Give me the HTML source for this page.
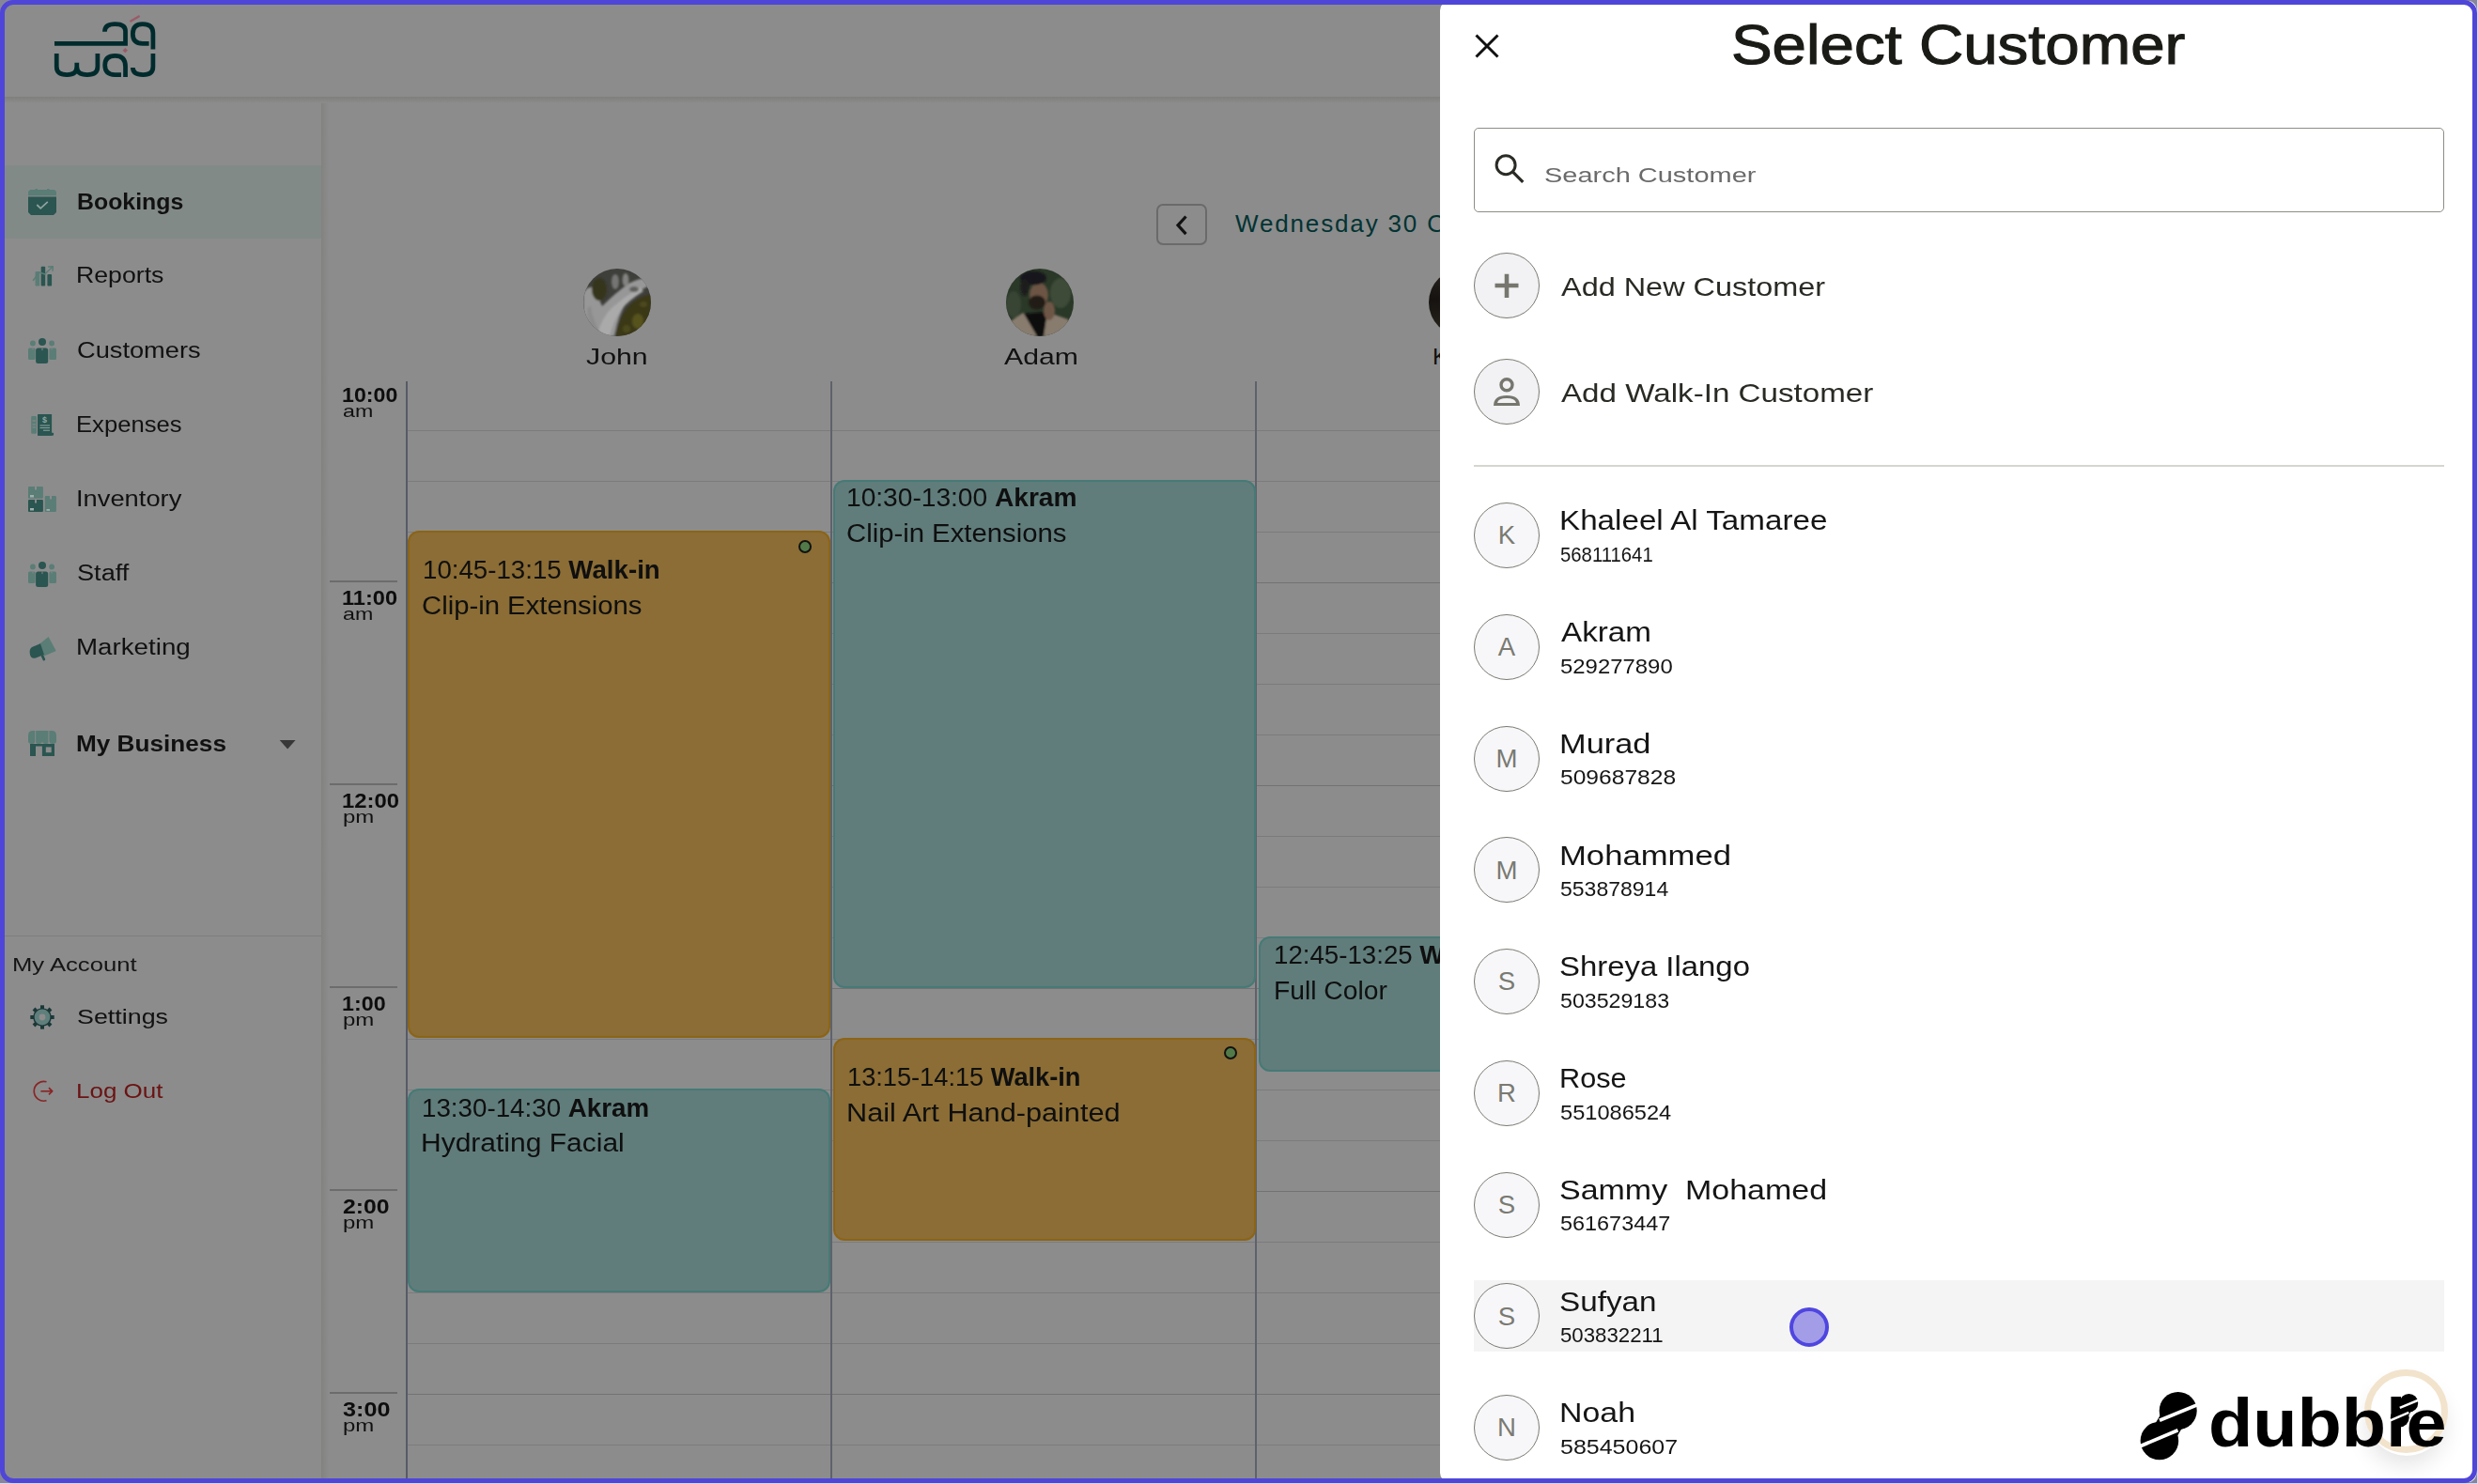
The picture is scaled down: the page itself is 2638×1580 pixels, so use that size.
<!DOCTYPE html>
<html><head><meta charset="utf-8"><title>Select Customer</title><style>
html,body{margin:0;padding:0;width:2638px;height:1580px;overflow:hidden;background:#8c8c8c}
.t{position:absolute;white-space:pre;line-height:1;font-family:"Liberation Sans",sans-serif}
.t b{font-weight:700}
.a{position:absolute;display:block}
</style></head><body>
<div class="a" style="left:5px;top:103px;width:2633px;height:7px;background:linear-gradient(#7f7f7c,#8c8c8c)"></div>
<div class="a" style="left:342px;top:110px;width:8px;height:1470px;background:linear-gradient(to right,#828280,#8c8c8c)"></div>
<div class="a" style="left:5px;top:175.5px;width:337px;height:78.5px;background:#828a88"></div>
<div class="a" style="left:5px;top:996px;width:337px;height:1px;background:#7e7e7e"></div>
<svg class="a" style="left:50px;top:10px" width="130" height="80" viewBox="0 0 2412 1484"><path d="M148,673 H1550 V430 Q1550,290 1345,290 Q1140,290 1140,440" fill="none" stroke="#002b2d" stroke-width="88" stroke-linecap="butt"/><path d="M2095,790 V470 Q2095,290 1890,290 Q1695,290 1695,480 Q1695,673 1890,673 H2015" fill="none" stroke="#002b2d" stroke-width="88" stroke-linecap="butt"/><path d="M190,870 V1130 Q190,1290 395,1290 Q590,1290 590,1130 V1055 M590,1130 Q590,1290 795,1290 Q1000,1290 1000,1130 V870" fill="none" stroke="#002b2d" stroke-width="88" stroke-linecap="butt"/><path d="M1465,1290 H1340 Q1145,1290 1145,1100 Q1145,915 1345,915 Q1550,915 1550,1130 V1335" fill="none" stroke="#002b2d" stroke-width="88" stroke-linecap="butt"/><path d="M2095,870 V1130 Q2095,1290 1900,1290 Q1695,1290 1695,1150" fill="none" stroke="#002b2d" stroke-width="88" stroke-linecap="butt"/><path d="M1640,240 L1830,130" stroke="#9a5a68" stroke-width="40"/><path d="M1545,760 L1595,810 L1545,860 L1495,810 Z" fill="#9a5a68"/></svg>
<svg class="a" style="left:30px;top:201px" width="30" height="28" viewBox="0 0 30 28"><rect x="7.5" y="0" width="2.5" height="3" fill="#5a7d76"/><rect x="20" y="0" width="2.5" height="3" fill="#5a7d76"/><path d="M2,1 H28 L30,3 V7.3 H0 V3 Z" fill="#5a7d76"/><path d="M0,8.6 H30 V25 L27,28 H3 L0,25 Z" fill="#2a5550"/><polyline points="9.3,17 13.2,20.8 20.8,13.8" fill="none" stroke="#8ea39f" stroke-width="1.8"/></svg>
<svg class="a" style="left:34px;top:283px" width="23" height="22" viewBox="0 0 23 22"><rect x="3.5" y="6" width="4.7" height="15.5" rx="1" fill="#5a7d76"/><rect x="9.7" y="0.7" width="4.5" height="20.8" rx="1" fill="#2a5550"/><rect x="16.4" y="9" width="4.7" height="12.5" rx="1" fill="#2a5550"/><path d="M1.1,15.8 L8,7 L13.6,9 L22,1" fill="none" stroke="#5a7d76" stroke-width="1.5"/><path d="M17,1 L22.3,0.7 L22,5.8" fill="none" stroke="#5a7d76" stroke-width="1.5"/></svg>
<svg class="a" style="left:30px;top:360px" width="30" height="27" viewBox="0 0 30 27"><circle cx="4.9" cy="5.5" r="2.9" fill="#5a7d76"/><circle cx="25.1" cy="5.5" r="2.9" fill="#5a7d76"/><rect x="0" y="10.5" width="7.6" height="12.5" rx="1.5" fill="#5a7d76"/><rect x="22.4" y="10.5" width="7.6" height="12.5" rx="1.5" fill="#5a7d76"/><circle cx="15" cy="4" r="4" fill="#2a5550"/><rect x="8.1" y="10.5" width="13.1" height="16.5" rx="2.5" fill="#2a5550"/><path d="M15,10.5 V13.2" stroke="#8c8c8c" stroke-width="0.9"/><path d="M5,10.5 V12.5 M25,10.5 V12.5" stroke="#8c8c8c" stroke-width="0.8"/></svg>
<svg class="a" style="left:30px;top:598px" width="30" height="27" viewBox="0 0 30 27"><circle cx="4.9" cy="5.5" r="2.9" fill="#5a7d76"/><circle cx="25.1" cy="5.5" r="2.9" fill="#5a7d76"/><rect x="0" y="10.5" width="7.6" height="12.5" rx="1.5" fill="#5a7d76"/><rect x="22.4" y="10.5" width="7.6" height="12.5" rx="1.5" fill="#5a7d76"/><circle cx="15" cy="4" r="4" fill="#2a5550"/><rect x="8.1" y="10.5" width="13.1" height="16.5" rx="2.5" fill="#2a5550"/><path d="M15,10.5 V13.2" stroke="#8c8c8c" stroke-width="0.9"/><path d="M5,10.5 V12.5 M25,10.5 V12.5" stroke="#8c8c8c" stroke-width="0.8"/></svg>
<svg class="a" style="left:33px;top:441px" width="25" height="23" viewBox="0 0 25 23"><rect x="0.2" y="2" width="5.7" height="18.7" rx="1" fill="#5a7d76"/><path d="M1.5,7 H5 M1.5,11 H5 M1.5,14 H5" stroke="#8c8c8c" stroke-width="1"/><rect x="7" y="0" width="15.1" height="22.7" rx="0.5" fill="#2a5550"/><rect x="7" y="19.7" width="17.1" height="3" rx="1" fill="#2a5550"/><text x="14.6" y="9" font-size="9" font-family="Liberation Sans" font-weight="700" fill="#8fa7a2" text-anchor="middle">$</text><path d="M9.5,12 H20 M9.5,14.6 H20 M13,17.2 H20" stroke="#8fa7a2" stroke-width="1"/></svg>
<svg class="a" style="left:30px;top:518px" width="30" height="27" viewBox="0 0 30 27"><rect x="0" y="0" width="15.9" height="12.8" rx="1" fill="#5a7d76"/><rect x="0" y="14.1" width="15.9" height="12.9" rx="1" fill="#2a5550"/><rect x="17.8" y="10" width="12.1" height="17" rx="1" fill="#5a7d76"/><rect x="7" y="0" width="2" height="3.5" fill="#8c8c8c"/><rect x="7" y="14.1" width="2" height="3.5" fill="#8c8c8c"/><rect x="23" y="10" width="2" height="3.5" fill="#8c8c8c"/><rect x="2" y="9" width="4" height="2.5" fill="#9fb0ac"/><rect x="2" y="23" width="4" height="2.5" fill="#9fb0ac"/><rect x="19.5" y="24" width="3.5" height="1.8" fill="#9fb0ac"/></svg>
<svg class="a" style="left:31px;top:677px" width="29" height="28" viewBox="0 0 29 28"><path d="M10,9.5 L20.6,1 L28.7,16 L15.9,21.5 Z" fill="#5a7d76"/><path d="M3,12 L12,8.3 L16,20 L7,23.5 Q1.5,25 0.8,19 Q0,14 3,12 Z" fill="#2a5550"/><path d="M14.2,21.5 L15.8,25" stroke="#2a5550" stroke-width="2.8" stroke-linecap="round"/></svg>
<svg class="a" style="left:30px;top:778px" width="30" height="27" viewBox="0 0 30 27"><path d="M0,5 Q0,0 5,0 H25 Q30,0 30,5 V11 Q30,14 26,14 Q22.5,14 22.5,11 Q22.5,14 18.7,14 Q15,14 15,11 Q15,14 11.2,14 Q7.5,14 7.5,11 Q7.5,14 4,14 Q0,14 0,11 Z" fill="#5a7d76"/><path d="M7.7,0 V13 M21.9,0 V13" stroke="#8c8c8c" stroke-width="0.9"/><rect x="2" y="14" width="26" height="13" fill="#2a5550"/><rect x="8" y="16.5" width="6.9" height="10.5" fill="#8c8c8c"/><rect x="18.8" y="17.4" width="5.9" height="5.8" fill="#8c8c8c"/></svg>
<svg class="a" style="left:297px;top:788px" width="18" height="10" viewBox="0 0 18 10"><path d="M0.7,0 H17.6 L9.15,9.6 Z" fill="#383838"/></svg>
<svg class="a" style="left:32px;top:1069.5px" width="26" height="26" viewBox="0 0 26 26"><rect x="11" y="0.3" width="4" height="5" fill="#1b3838" transform="rotate(0 13 13)"/><rect x="11" y="0.3" width="4" height="5" fill="#1b3838" transform="rotate(45 13 13)"/><rect x="11" y="0.3" width="4" height="5" fill="#1b3838" transform="rotate(90 13 13)"/><rect x="11" y="0.3" width="4" height="5" fill="#1b3838" transform="rotate(135 13 13)"/><rect x="11" y="0.3" width="4" height="5" fill="#1b3838" transform="rotate(180 13 13)"/><rect x="11" y="0.3" width="4" height="5" fill="#1b3838" transform="rotate(225 13 13)"/><rect x="11" y="0.3" width="4" height="5" fill="#1b3838" transform="rotate(270 13 13)"/><rect x="11" y="0.3" width="4" height="5" fill="#1b3838" transform="rotate(315 13 13)"/><circle cx="13" cy="13" r="9.8" fill="#1b3838"/><circle cx="13" cy="13" r="8.4" fill="#5f7f7c"/><circle cx="13" cy="13" r="3.4" fill="#8c8c8c"/></svg>
<svg class="a" style="left:33px;top:1149px" width="26" height="26" viewBox="0 0 26 26"><path d="M16.5,2.8 A10.4,10.4 0 1 0 16.5,22.8" fill="none" stroke="#8a2525" stroke-width="1.7"/><path d="M10.4,12.8 H22.6" stroke="#8a2525" stroke-width="1.7"/><path d="M19,9.2 L22.6,12.8 L19,16.4" fill="none" stroke="#8a2525" stroke-width="1.7"/></svg>
<div class="a" style="left:434px;top:458px;width:1200px;height:1px;background:#7b7b7b"></div>
<div class="a" style="left:434px;top:512px;width:1200px;height:1px;background:#7b7b7b"></div>
<div class="a" style="left:434px;top:566px;width:1200px;height:1px;background:#7b7b7b"></div>
<div class="a" style="left:434px;top:620px;width:1200px;height:1px;background:#727272"></div>
<div class="a" style="left:434px;top:674px;width:1200px;height:1px;background:#7b7b7b"></div>
<div class="a" style="left:434px;top:728px;width:1200px;height:1px;background:#7b7b7b"></div>
<div class="a" style="left:434px;top:782px;width:1200px;height:1px;background:#7b7b7b"></div>
<div class="a" style="left:434px;top:836px;width:1200px;height:1px;background:#727272"></div>
<div class="a" style="left:434px;top:890px;width:1200px;height:1px;background:#7b7b7b"></div>
<div class="a" style="left:434px;top:944px;width:1200px;height:1px;background:#7b7b7b"></div>
<div class="a" style="left:434px;top:998px;width:1200px;height:1px;background:#7b7b7b"></div>
<div class="a" style="left:434px;top:1052px;width:1200px;height:1px;background:#727272"></div>
<div class="a" style="left:434px;top:1106px;width:1200px;height:1px;background:#7b7b7b"></div>
<div class="a" style="left:434px;top:1160px;width:1200px;height:1px;background:#7b7b7b"></div>
<div class="a" style="left:434px;top:1214px;width:1200px;height:1px;background:#7b7b7b"></div>
<div class="a" style="left:434px;top:1268px;width:1200px;height:1px;background:#727272"></div>
<div class="a" style="left:434px;top:1322px;width:1200px;height:1px;background:#7b7b7b"></div>
<div class="a" style="left:434px;top:1376px;width:1200px;height:1px;background:#7b7b7b"></div>
<div class="a" style="left:434px;top:1430px;width:1200px;height:1px;background:#7b7b7b"></div>
<div class="a" style="left:434px;top:1484px;width:1200px;height:1px;background:#727272"></div>
<div class="a" style="left:434px;top:1538px;width:1200px;height:1px;background:#7b7b7b"></div>
<div class="a" style="left:351px;top:617.5px;width:72px;height:2px;background:#6c6c6c"></div>
<div class="a" style="left:351px;top:833.5px;width:72px;height:2px;background:#6c6c6c"></div>
<div class="a" style="left:351px;top:1049.5px;width:72px;height:2px;background:#6c6c6c"></div>
<div class="a" style="left:351px;top:1265.5px;width:72px;height:2px;background:#6c6c6c"></div>
<div class="a" style="left:351px;top:1481.5px;width:72px;height:2px;background:#6c6c6c"></div>
<div class="a" style="left:432px;top:406px;width:2px;height:1174px;background:#565b66"></div>
<div class="a" style="left:884px;top:406px;width:2px;height:1174px;background:#5e626c"></div>
<div class="a" style="left:1336px;top:406px;width:2px;height:1174px;background:#5e626c"></div>
<div class="a" style="left:434px;top:565px;width:450px;height:540px;background:#8b6d35;border:2px solid #8c6416;box-sizing:border-box;border-radius:12px"></div>
<div class="a" style="left:434px;top:1159px;width:450px;height:217px;background:#607d7b;border:2px solid #467a76;box-sizing:border-box;border-radius:12px"></div>
<div class="a" style="left:887px;top:511px;width:449.5px;height:541px;background:#607d7b;border:2px solid #467a76;box-sizing:border-box;border-radius:12px"></div>
<div class="a" style="left:887px;top:1105px;width:449.5px;height:216px;background:#8b6d35;border:2px solid #8c6416;box-sizing:border-box;border-radius:12px"></div>
<div class="a" style="left:1340px;top:997px;width:450px;height:144px;background:#607d7b;border:2px solid #467a76;box-sizing:border-box;border-radius:12px"></div>
<div class="a" style="left:849.7px;top:574.5px;width:14px;height:14px;background:#527a48;border:2px solid #121212;box-sizing:border-box;border-radius:50%"></div>
<div class="a" style="left:1302.7px;top:1114.3px;width:14px;height:14px;background:#527a48;border:2px solid #121212;box-sizing:border-box;border-radius:50%"></div>
<svg class="a" style="left:621px;top:286px" width="72" height="72" viewBox="0 0 72 72"><defs><clipPath id="cj"><circle cx="36" cy="36" r="36"/></clipPath><filter id="bj" x="-20%" y="-20%" width="140%" height="140%"><feGaussianBlur stdDeviation="1.2"/></filter></defs><g clip-path="url(#cj)"><rect width="72" height="72" fill="#3e3e3b"/><g filter="url(#bj)"><path d="M0,26 Q6,16 12,22 L20,40 Q34,26 48,16 Q60,9 72,10 L72,17 Q56,25 46,36 Q38,47 33,72 L0,72 Z" fill="#979797"/><path d="M14,72 Q20,52 30,42 Q44,30 60,20 L64,24 Q48,34 40,44 Q32,56 28,72 Z" fill="#aaaaaa"/><path d="M8,40 Q10,56 20,72 L12,72 Q4,58 4,42 Z" fill="#8c8c8c"/><ellipse cx="34" cy="14" rx="4" ry="8" fill="#757573"/><ellipse cx="45" cy="12" rx="3.5" ry="7" fill="#828280"/><ellipse cx="54" cy="22" rx="5" ry="3" fill="#5e5e5c"/><ellipse cx="17" cy="22" rx="8" ry="12" fill="#36341a"/><path d="M34,72 Q38,52 48,40 Q58,30 72,27 L72,72 Z" fill="#3a3719"/><ellipse cx="58" cy="56" rx="6" ry="8" fill="#57521f"/><ellipse cx="46" cy="64" rx="4" ry="4" fill="#4c4a1c"/><ellipse cx="64" cy="38" rx="4" ry="3" fill="#4e4a1f"/></g></g></svg>
<svg class="a" style="left:1071px;top:286px" width="72" height="72" viewBox="0 0 72 72"><defs><clipPath id="ca"><circle cx="36" cy="36" r="36"/></clipPath><filter id="ba" x="-20%" y="-20%" width="140%" height="140%"><feGaussianBlur stdDeviation="0.9"/></filter></defs><g clip-path="url(#ca)"><rect width="72" height="72" fill="#2a3828"/><g filter="url(#ba)"><ellipse cx="58" cy="26" rx="11" ry="16" fill="#3d4c37"/><ellipse cx="8" cy="38" rx="8" ry="14" fill="#384434"/><ellipse cx="35" cy="28" rx="10" ry="13" fill="#6c5444"/><ellipse cx="29" cy="10" rx="14" ry="7.5" fill="#19191b"/><ellipse cx="20" cy="20" rx="4.5" ry="9" fill="#1e1c1c"/><ellipse cx="33" cy="36" rx="9" ry="7.5" fill="#211a15"/><path d="M2,58 L18,47 L30,56 L46,47 L66,54 L72,72 L0,72 Z" fill="#887c6e"/><path d="M19,48 L44,46 L40,72 L33,72 Z" fill="#0e0e0e"/><ellipse cx="46" cy="45" rx="6" ry="10" fill="#6e5646"/></g></g></svg>
<div class="a" style="left:1521px;top:286px;width:72px;height:72px;border-radius:50%;background:linear-gradient(#2a251d,#151210 45%,#2a261e)"></div>
<div class="a" style="left:1231px;top:217px;width:54px;height:44px;border:2px solid #6a6a6a;border-radius:7px;box-sizing:border-box"></div>
<svg class="a" style="left:1249px;top:228px" width="20" height="24" viewBox="0 0 20 24"><path d="M13.5,2.5 L5,11.8 L13.5,21.1" fill="none" stroke="#121212" stroke-width="3.2"/></svg>
<div class="t" style="left:81.5px;top:204.3px;font-size:23.5px;font-weight:700;color:#111;transform:scaleX(1.0577);transform-origin:0 0;">Bookings</div>
<div class="t" style="left:81.3px;top:282.4px;font-size:23.5px;font-weight:400;color:#111;transform:scaleX(1.1354);transform-origin:0 0;">Reports</div>
<div class="t" style="left:82.4px;top:361.7px;font-size:23.5px;font-weight:400;color:#111;transform:scaleX(1.1580);transform-origin:0 0;">Customers</div>
<div class="t" style="left:81.4px;top:440.9px;font-size:23.5px;font-weight:400;color:#111;transform:scaleX(1.0900);transform-origin:0 0;">Expenses</div>
<div class="t" style="left:81.3px;top:520.1px;font-size:23.5px;font-weight:400;color:#111;transform:scaleX(1.1621);transform-origin:0 0;">Inventory</div>
<div class="t" style="left:82.4px;top:598.8px;font-size:23.5px;font-weight:400;color:#111;transform:scaleX(1.1553);transform-origin:0 0;">Staff</div>
<div class="t" style="left:81.2px;top:677.8px;font-size:23.5px;font-weight:400;color:#111;transform:scaleX(1.1800);transform-origin:0 0;">Marketing</div>
<div class="t" style="left:81.4px;top:781.3px;font-size:23.5px;font-weight:700;color:#111;transform:scaleX(1.1135);transform-origin:0 0;">My Business</div>
<div class="t" style="left:12.8px;top:1016.2px;font-size:21px;font-weight:400;color:#151515;transform:scaleX(1.2217);transform-origin:0 0;">My Account</div>
<div class="t" style="left:82.3px;top:1071.8px;font-size:22px;font-weight:400;color:#111;transform:scaleX(1.2205);transform-origin:0 0;">Settings</div>
<div class="t" style="left:81.1px;top:1151.4px;font-size:22px;font-weight:400;color:#6b1212;transform:scaleX(1.1816);transform-origin:0 0;">Log Out</div>
<div class="t" style="left:363.7px;top:409.8px;font-size:22.2px;font-weight:700;color:#0d0d0d;transform:scaleX(1.0444);transform-origin:0 0;">10:00</div>
<div class="t" style="left:364.9px;top:428.8px;font-size:18.4px;font-weight:400;color:#111;transform:scaleX(1.2609);transform-origin:0 0;">am</div>
<div class="t" style="left:363.7px;top:625.8px;font-size:22.2px;font-weight:700;color:#0d0d0d;transform:scaleX(1.0642);transform-origin:0 0;">11:00</div>
<div class="t" style="left:364.9px;top:644.8px;font-size:18.4px;font-weight:400;color:#111;transform:scaleX(1.2609);transform-origin:0 0;">am</div>
<div class="t" style="left:363.7px;top:841.8px;font-size:22.2px;font-weight:700;color:#0d0d0d;transform:scaleX(1.0741);transform-origin:0 0;">12:00</div>
<div class="t" style="left:364.9px;top:860.8px;font-size:18.4px;font-weight:400;color:#111;transform:scaleX(1.3043);transform-origin:0 0;">pm</div>
<div class="t" style="left:363.7px;top:1057.8px;font-size:22.2px;font-weight:700;color:#0d0d0d;transform:scaleX(1.0488);transform-origin:0 0;">1:00</div>
<div class="t" style="left:364.9px;top:1076.8px;font-size:18.4px;font-weight:400;color:#111;transform:scaleX(1.3043);transform-origin:0 0;">pm</div>
<div class="t" style="left:364.7px;top:1273.8px;font-size:22.2px;font-weight:700;color:#0d0d0d;transform:scaleX(1.1167);transform-origin:0 0;">2:00</div>
<div class="t" style="left:364.9px;top:1292.8px;font-size:18.4px;font-weight:400;color:#111;transform:scaleX(1.3043);transform-origin:0 0;">pm</div>
<div class="t" style="left:364.7px;top:1489.8px;font-size:22.2px;font-weight:700;color:#0d0d0d;transform:scaleX(1.1357);transform-origin:0 0;">3:00</div>
<div class="t" style="left:364.9px;top:1508.8px;font-size:18.4px;font-weight:400;color:#111;transform:scaleX(1.3043);transform-origin:0 0;">pm</div>
<div class="t" style="left:624.3px;top:368.3px;font-size:24.5px;font-weight:400;color:#111;transform:scaleX(1.2353);transform-origin:0 0;">John</div>
<div class="t" style="left:1068.9px;top:368.3px;font-size:24.5px;font-weight:400;color:#111;transform:scaleX(1.2323);transform-origin:0 0;">Adam</div>
<div class="t" style="left:1525.0px;top:367.9px;font-size:24.5px;font-weight:400;color:#111;">Kh</div>
<div class="t" style="left:1315.0px;top:225.0px;font-size:26px;font-weight:400;color:#013333;letter-spacing:1.85px;">Wednesday 30 October 2024</div>
<div class="t" style="left:449.5px;top:594.3px;font-size:27px;font-weight:400;color:#0f0f0f;transform:scaleX(1.0247);transform-origin:0 0;">10:45-13:15 <b>Walk-in</b></div>
<div class="t" style="left:449.3px;top:632.0px;font-size:27px;font-weight:400;color:#0f0f0f;transform:scaleX(1.0845);transform-origin:0 0;">Clip-in Extensions</div>
<div class="t" style="left:448.5px;top:1166.5px;font-size:27px;font-weight:400;color:#0f0f0f;transform:scaleX(1.0276);transform-origin:0 0;">13:30-14:30 <b>Akram</b></div>
<div class="t" style="left:448.4px;top:1204.0px;font-size:27px;font-weight:400;color:#0f0f0f;transform:scaleX(1.1110);transform-origin:0 0;">Hydrating Facial</div>
<div class="t" style="left:901.4px;top:517.1px;font-size:27px;font-weight:400;color:#0f0f0f;transform:scaleX(1.0418);transform-origin:0 0;">10:30-13:00 <b>Akram</b></div>
<div class="t" style="left:901.3px;top:555.0px;font-size:27px;font-weight:400;color:#0f0f0f;transform:scaleX(1.0845);transform-origin:0 0;">Clip-in Extensions</div>
<div class="t" style="left:901.5px;top:1134.3px;font-size:27px;font-weight:400;color:#0f0f0f;transform:scaleX(1.0074);transform-origin:0 0;">13:15-14:15 <b>Walk-in</b></div>
<div class="t" style="left:901.2px;top:1172.0px;font-size:27px;font-weight:400;color:#0f0f0f;transform:scaleX(1.1360);transform-origin:0 0;">Nail Art Hand-painted</div>
<div class="t" style="left:1355.7px;top:1003.9px;font-size:27px;font-weight:400;color:#0f0f0f;transform:scaleX(1.0247);transform-origin:0 0;">12:45-13:25 <b>Walk-in</b></div>
<div class="t" style="left:1355.6px;top:1041.9px;font-size:27px;font-weight:400;color:#0f0f0f;transform:scaleX(1.0460);transform-origin:0 0;">Full Color</div>
<div class="a" style="left:1532.6px;top:1px;width:1105px;height:1577px;background:#fff;border-radius:10px 0 0 10px"></div>
<svg class="a" style="left:1570px;top:36px" width="26" height="26" viewBox="0 0 26 26"><path d="M1.5,1.5 L24.5,24.5 M24.5,1.5 L1.5,24.5" stroke="#111" stroke-width="3"/></svg>
<div class="a" style="left:1569px;top:136px;width:1033px;height:90px;border:1.3px solid #8d8d86;border-radius:5px;box-sizing:border-box"></div>
<svg class="a" style="left:1590px;top:162px" width="36" height="36" viewBox="0 0 36 36"><circle cx="13.1" cy="13.7" r="10" fill="none" stroke="#2b2b26" stroke-width="3"/><path d="M20.6,21.1 L31.3,31.9" stroke="#2b2b26" stroke-width="3.2"/></svg>
<div class="a" style="left:1569px;top:269px;width:70px;height:70px;border:1.3px solid #7a7a72;border-radius:50%;box-sizing:border-box;background:#f2f2f4"></div>
<svg class="a" style="left:1569px;top:269px" width="70" height="70" viewBox="0 0 70 70"><path d="M22.5,35 H47.5 M35,22.8 V48" stroke="#76766e" stroke-width="4.6"/></svg>
<div class="a" style="left:1569px;top:382px;width:70px;height:70px;border:1.3px solid #7a7a72;border-radius:50%;box-sizing:border-box;background:#f2f2f4"></div>
<svg class="a" style="left:1569px;top:382px" width="70" height="70" viewBox="0 0 70 70"><circle cx="35" cy="27.7" r="6" fill="none" stroke="#76766e" stroke-width="3.4"/><path d="M21,50 Q21,39 35,39 Q49,39 49,50 Z" fill="#76766e"/><path d="M25,47 Q26,42 35,42 Q44,42 45,47 Z" fill="#f2f2f4"/></svg>
<div class="a" style="left:1569px;top:495px;width:1033px;height:1.5px;background:#d6d6d1"></div>
<div class="a" style="left:1569px;top:1363.4px;width:1033px;height:75.3px;background:#f4f4f4"></div>
<div class="a" style="left:1569px;top:535.0px;width:70px;height:70px;border:1.3px solid #7a7a72;border-radius:50%;box-sizing:border-box;background:#f7f7f9"></div>
<div class="t" style="left:1569px;top:556.2px;width:70px;text-align:center;font-size:27.6px;color:#7a7a72">K</div>
<div class="a" style="left:1569px;top:653.75px;width:70px;height:70px;border:1.3px solid #7a7a72;border-radius:50%;box-sizing:border-box;background:#f7f7f9"></div>
<div class="t" style="left:1569px;top:675.0px;width:70px;text-align:center;font-size:27.6px;color:#7a7a72">A</div>
<div class="a" style="left:1569px;top:772.5px;width:70px;height:70px;border:1.3px solid #7a7a72;border-radius:50%;box-sizing:border-box;background:#f7f7f9"></div>
<div class="t" style="left:1569px;top:793.7px;width:70px;text-align:center;font-size:27.6px;color:#7a7a72">M</div>
<div class="a" style="left:1569px;top:891.25px;width:70px;height:70px;border:1.3px solid #7a7a72;border-radius:50%;box-sizing:border-box;background:#f7f7f9"></div>
<div class="t" style="left:1569px;top:912.5px;width:70px;text-align:center;font-size:27.6px;color:#7a7a72">M</div>
<div class="a" style="left:1569px;top:1010.0px;width:70px;height:70px;border:1.3px solid #7a7a72;border-radius:50%;box-sizing:border-box;background:#f7f7f9"></div>
<div class="t" style="left:1569px;top:1031.2px;width:70px;text-align:center;font-size:27.6px;color:#7a7a72">S</div>
<div class="a" style="left:1569px;top:1128.75px;width:70px;height:70px;border:1.3px solid #7a7a72;border-radius:50%;box-sizing:border-box;background:#f7f7f9"></div>
<div class="t" style="left:1569px;top:1150.0px;width:70px;text-align:center;font-size:27.6px;color:#7a7a72">R</div>
<div class="a" style="left:1569px;top:1247.5px;width:70px;height:70px;border:1.3px solid #7a7a72;border-radius:50%;box-sizing:border-box;background:#f7f7f9"></div>
<div class="t" style="left:1569px;top:1268.7px;width:70px;text-align:center;font-size:27.6px;color:#7a7a72">S</div>
<div class="a" style="left:1569px;top:1366.25px;width:70px;height:70px;border:1.3px solid #7a7a72;border-radius:50%;box-sizing:border-box;background:#f7f7f9"></div>
<div class="t" style="left:1569px;top:1387.5px;width:70px;text-align:center;font-size:27.6px;color:#7a7a72">S</div>
<div class="a" style="left:1569px;top:1485.0px;width:70px;height:70px;border:1.3px solid #7a7a72;border-radius:50%;box-sizing:border-box;background:#f7f7f9"></div>
<div class="t" style="left:1569px;top:1506.2px;width:70px;text-align:center;font-size:27.6px;color:#7a7a72">N</div>
<div class="a" style="left:1904.5px;top:1391.5px;width:42px;height:42px;border:4px solid #4f46e0;border-radius:50%;box-sizing:border-box;background:#a39de8"></div>
<div class="t" style="left:1842.8px;top:18.7px;font-size:59px;font-weight:400;color:#1a1a16;transform:scaleX(1.1083);transform-origin:0 0;-webkit-text-stroke:1.1px #1a1a16;">Select Customer</div>
<div class="t" style="left:1643.7px;top:176.2px;font-size:22.5px;font-weight:400;color:#6a6a6a;transform:scaleX(1.2874);transform-origin:0 0;">Search Customer</div>
<div class="t" style="left:1662.3px;top:290.8px;font-size:28.5px;font-weight:400;color:#2a2a25;transform:scaleX(1.1377);transform-origin:0 0;">Add New Customer</div>
<div class="t" style="left:1662.3px;top:403.8px;font-size:28.5px;font-weight:400;color:#2a2a25;transform:scaleX(1.1635);transform-origin:0 0;">Add Walk-In Customer</div>
<div class="t" style="left:1660.0px;top:540.3px;font-size:29px;font-weight:400;color:#151515;transform:scaleX(1.1447);transform-origin:0 0;">Khaleel Al Tamaree</div>
<div class="t" style="left:1661.4px;top:579.9px;font-size:22px;font-weight:400;color:#151515;transform:scaleX(0.9238);transform-origin:0 0;">568111641</div>
<div class="t" style="left:1662.3px;top:659.0px;font-size:29px;font-weight:400;color:#151515;transform:scaleX(1.1463);transform-origin:0 0;">Akram</div>
<div class="t" style="left:1661.2px;top:698.6px;font-size:22px;font-weight:400;color:#151515;transform:scaleX(1.0870);transform-origin:0 0;">529277890</div>
<div class="t" style="left:1659.9px;top:777.8px;font-size:29px;font-weight:400;color:#151515;transform:scaleX(1.1859);transform-origin:0 0;">Murad</div>
<div class="t" style="left:1661.2px;top:817.4px;font-size:22px;font-weight:400;color:#151515;transform:scaleX(1.1185);transform-origin:0 0;">509687828</div>
<div class="t" style="left:1659.9px;top:896.5px;font-size:29px;font-weight:400;color:#151515;transform:scaleX(1.1946);transform-origin:0 0;">Mohammed</div>
<div class="t" style="left:1661.3px;top:936.1px;font-size:22px;font-weight:400;color:#151515;transform:scaleX(1.0459);transform-origin:0 0;">553878914</div>
<div class="t" style="left:1660.0px;top:1015.3px;font-size:29px;font-weight:400;color:#151515;transform:scaleX(1.1341);transform-origin:0 0;">Shreya Ilango</div>
<div class="t" style="left:1661.2px;top:1054.9px;font-size:22px;font-weight:400;color:#151515;transform:scaleX(1.0537);transform-origin:0 0;">503529183</div>
<div class="t" style="left:1660.2px;top:1134.0px;font-size:29px;font-weight:400;color:#151515;transform:scaleX(1.0578);transform-origin:0 0;">Rose</div>
<div class="t" style="left:1661.2px;top:1173.6px;font-size:22px;font-weight:400;color:#151515;transform:scaleX(1.0734);transform-origin:0 0;">551086524</div>
<div class="t" style="left:1660.0px;top:1252.8px;font-size:29px;font-weight:400;color:#151515;transform:scaleX(1.1715);transform-origin:0 0;">Sammy&nbsp; Mohamed</div>
<div class="t" style="left:1661.2px;top:1292.4px;font-size:22px;font-weight:400;color:#151515;transform:scaleX(1.0648);transform-origin:0 0;">561673447</div>
<div class="t" style="left:1660.0px;top:1371.5px;font-size:29px;font-weight:400;color:#151515;transform:scaleX(1.1460);transform-origin:0 0;">Sufyan</div>
<div class="t" style="left:1661.3px;top:1411.1px;font-size:22px;font-weight:400;color:#151515;transform:scaleX(1.0113);transform-origin:0 0;">503832211</div>
<div class="t" style="left:1660.0px;top:1490.3px;font-size:29px;font-weight:400;color:#151515;transform:scaleX(1.1682);transform-origin:0 0;">Noah</div>
<div class="t" style="left:1661.2px;top:1529.9px;font-size:22px;font-weight:400;color:#151515;transform:scaleX(1.1361);transform-origin:0 0;">585450607</div>
<div class="a" style="left:2520px;top:1466px;width:84px;height:84px;border-radius:50%;box-shadow:-1px 10px 24px rgba(0,0,0,0.11)"></div>
<div class="a" style="left:2516.5px;top:1458px;width:89px;height:89px;border:7px solid #f2e3cc;border-radius:50%;box-sizing:border-box;background:#fff"></div>
<svg class="a" style="left:2277px;top:1482px" width="64" height="73" viewBox="0 0 64 73"><path d="M41.7,19 L21.9,52.6" stroke="#000" stroke-width="27" stroke-linecap="round"/><circle cx="41.7" cy="20" r="20" fill="#000"/><circle cx="21.9" cy="52" r="20.3" fill="#000"/><path d="M22,30.2 L66,12.2" stroke="#fff" stroke-width="3.8"/><path d="M-3,59.6 L41.5,40.8" stroke="#fff" stroke-width="3.8"/></svg>
<div class="t" style="left:2351px;top:1478.6px;font-size:72px;font-weight:700;color:#000;transform:scaleX(1.075);transform-origin:0 0">dubble</div>
<svg class="a" style="left:2544px;top:1484px" width="32" height="36" viewBox="0 0 32 36"><g transform="scale(0.49)"><path d="M41.7,19 L21.9,52.6" stroke="#000" stroke-width="27" stroke-linecap="round"/><circle cx="41.7" cy="20" r="20" fill="#000"/><circle cx="21.9" cy="52" r="20.3" fill="#000"/><path d="M22,30.2 L66,12.2" stroke="#fff" stroke-width="5"/><path d="M-3,59.6 L41.5,40.8" stroke="#fff" stroke-width="5"/></g></svg>
<svg class="a" style="left:0;top:0" width="2638" height="1580"><path fill-rule="evenodd" fill="#86869a" d="M0,0 H2638 V1580 H0 Z M14,0 H2623 Q2637,0 2637,14 V1565 Q2637,1579 2623,1579 H14 Q0,1579 0,1565 V14 Q0,0 14,0 Z"/><rect x="2.5" y="2.5" width="2632" height="1574" rx="11.5" fill="none" stroke="#4f46d8" stroke-width="5"/><rect x="2637" y="0" width="1" height="1580" fill="#dcd8f6"/><rect x="0" y="1579" width="2638" height="1" fill="#dcd8f6"/></svg>
</body></html>
